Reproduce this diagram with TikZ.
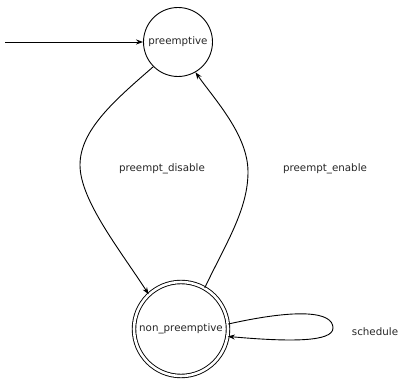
\documentclass[tikz,border=0pt]{standalone}
\usepackage{fontspec}
\setmainfont{DejaVu Sans}
\usetikzlibrary{arrows.meta}

\tikzset{
  state/.style={circle, draw, minimum size=69pt, inner sep=0pt},
  final/.style={state, double, double distance=2.6pt, minimum size=94pt},
  trans/.style={-{Stealth[length=7pt, width=5pt]}},
  lbl/.style={inner sep=0pt, text=black!85}
}

\begin{document}
\begin{tikzpicture}[x=1pt, y=-1pt, line width=0.9pt, font=\fontsize{10.3}{12}\selectfont]
\useasboundingbox (0,0) rectangle (400,382);

% states
\node[state, text=black!85] (pre) at (178,42) {preemptive};
\node[final, text=black!85] (nonpre) at (181,329) {non\_preemptive};
\coordinate (start) at (5,42);

% labels
\node[lbl] (dislbl) at (162,169) {preempt\_disable};
\node[lbl] (enlbl) at (325,169) {preempt\_enable};
\node[lbl] (schedlbl) at (375,332) {schedule};

% transitions
\draw[trans] (start) -- (pre);
\draw[trans] (pre.225) .. controls (115,100) and (80,130) .. (80,165)
                       .. controls (80,200) and (120,250) .. (nonpre.133);
\draw[trans] (nonpre.60) .. controls (225,245) and (248,210) .. (248,172)
                         .. controls (248,135) and (215,100) .. (pre.300);
\draw[trans] (nonpre.6) .. controls (300,308) and (333,312) .. (333,328)
                        .. controls (333,342) and (290,342) .. (nonpre.-9);
\end{tikzpicture}
\end{document}
